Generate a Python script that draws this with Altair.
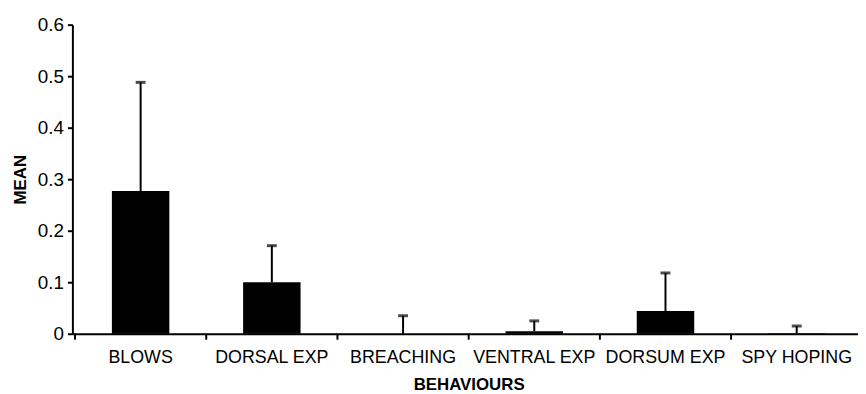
import altair as alt
import pandas as pd

categories = ["BLOWS", "DORSAL EXP", "BREACHING", "VENTRAL EXP", "DORSUM EXP", "SPY HOPING"]
means = [0.277, 0.100, 0.0, 0.005, 0.044, 0.001]
upper = [0.488, 0.171, 0.035, 0.025, 0.118, 0.015]

df = pd.DataFrame({"cat": categories, "mean": means, "upper": upper})

FONT = "Liberation Sans"
xscale = alt.Scale(domain=categories, paddingInner=0, paddingOuter=0.02, range=[0, 800])
yscale = alt.Scale(domain=[0, 0.6], nice=False)

base = alt.Chart(df)

bars = base.mark_bar(color="black", size=58).encode(
    x=alt.X("cat:N", sort=categories, scale=xscale,
            axis=alt.Axis(title="BEHAVIOURS", labelAngle=0, ticks=False,
                          domainColor="black", domainWidth=2,
                          labelFont=FONT, labelFontSize=18, labelColor="black",
                          labelPadding=15,
                          titleFont=FONT, titleFontSize=17, titleFontWeight="bold",
                          titleColor="black", titlePadding=10)),
    y=alt.Y("mean:Q", scale=yscale,
            axis=alt.Axis(title="MEAN", values=[0, 0.1, 0.2, 0.3, 0.4, 0.5, 0.6],
                          format=".1~f", grid=False,
                          domainColor="black", domainWidth=2,
                          tickColor="black", tickWidth=2, tickSize=5,
                          labelFont=FONT, labelFontSize=19, labelColor="black",
                          labelPadding=4,
                          titleFont=FONT, titleFontSize=17, titleFontWeight="bold",
                          titleColor="black", titlePadding=8)),
)

stems = base.mark_rule(color="black", strokeWidth=2).encode(
    x=alt.X("cat:N", sort=categories, scale=xscale),
    y=alt.Y("mean:Q", scale=yscale),
    y2="upper:Q",
)

caps = base.mark_tick(color="black", size=10, thickness=3, orient="horizontal").encode(
    x=alt.X("cat:N", sort=categories, scale=xscale),
    y=alt.Y("upper:Q", scale=yscale),
)

xticks = base.mark_rule(color="black", strokeWidth=2).encode(
    x=alt.X("cat:N", sort=categories, scale=xscale, bandPosition=0),
    y=alt.value(312),
    y2=alt.value(318),
)

chart = alt.layer(bars, stems, caps, xticks).properties(
    width=793,
    height=312,
    autosize=alt.AutoSizeParams(type="none"),
    padding={"left": 65, "top": 15, "right": 0, "bottom": 58},
    background="white",
).configure_view(stroke=None)

chart.save("out.html", embed_options={"renderer": "svg", "actions": False})
